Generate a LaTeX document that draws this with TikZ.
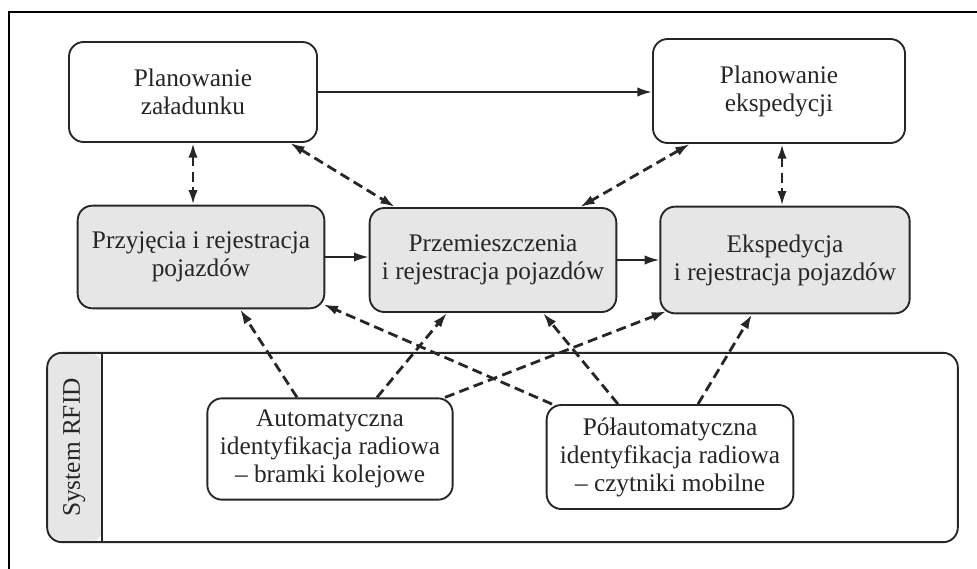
\documentclass[tikz,border=0pt]{standalone}
\usepackage{fontspec}
\setmainfont{Liberation Serif}
\usetikzlibrary{arrows.meta,calc}
\definecolor{boxgrey}{HTML}{E6E6E6}
\definecolor{ink}{HTML}{262626}
\begin{document}
\begin{tikzpicture}[x=0.75pt,y=-0.75pt,
  every node/.style={font=\fontsize{19}{21}\selectfont, text=ink},
  box/.style={draw=ink, line width=1.4pt, rounded corners=11pt, align=center, inner sep=0pt},
  plain/.style={box, fill=white},
  shaded/.style={box, fill=boxgrey},
  flow/.style={line width=1.6pt, draw=ink, -{Latex[length=11pt,width=7pt]}},
  link/.style={line width=2.1pt, draw=ink, dash pattern=on 7.5pt off 4pt, -{Latex[length=11pt,width=7pt]}},
  both/.style={link, {Latex[length=11pt,width=7pt]}-{Latex[length=11pt,width=7pt]}},
]
\useasboundingbox (0,0) rectangle (977,568);

% page frame (runs off the right and bottom edges)
\draw[line width=2.2pt, black] (990,12) -- (9,12) -- (9,580);

% planning level
\node[plain, minimum width=186pt, minimum height=75pt] (plz) at (193,92) {Planowanie\\załadunku};
\node[plain, minimum width=189pt, minimum height=78pt] (ple) at (779,91) {Planowanie\\ekspedycji};

% operations level
\node[shaded, minimum width=185pt, minimum height=77pt] (prz) at (201,257) {Przyjęcia i rejestracja\\pojazdów};
\node[shaded, minimum width=185pt, minimum height=78pt] (prm) at (493,260) {Przemieszczenia\\i rejestracja pojazdów};
\node[shaded, minimum width=187pt, minimum height=80pt] (eks) at (785,260) {Ekspedycja\\i rejestracja pojazdów};

% RFID system band with its grey title strip
\node[draw=ink, line width=1.4pt, rounded corners=11pt, fill=white,
      minimum width=683pt, minimum height=142pt,
      path picture={\fill[boxgrey] (path picture bounding box.north west) rectangle ($(path picture bounding box.south west)+(56,0)$);}]
      (rfid) at (502.5,447.5) {};
\draw[draw=ink, line width=1.4pt] ($(rfid.north west)+(56,0)$) -- ($(rfid.south west)+(56,0)$);
\node[rotate=90] (rfidlabel) at ($(rfid.west)+(28,0)$) {System RFID};

\node[plain, minimum width=184pt, minimum height=76pt] (auto) at (330,449) {Automatyczna\\identyfikacja radiowa\\– bramki kolejowe};
\node[plain, minimum width=185pt, minimum height=78pt] (polo) at (670,457) {Półautomatyczna\\identyfikacja radiowa\\– czytniki mobilne};

% solid flows
\draw[flow] (plz.east) -- (plz.east -| ple.west);
\draw[flow] (prz.east) -- (prz.east -| prm.west);
\draw[flow] (prm.east) -- (prm.east -| eks.west);

% planning <-> operations
\coordinate (pleout) at ($(ple.south)+(3,0)$);
\draw[both] (plz.south) -- (plz.south |- prz.north);
\draw[both] ($(plz.south)+(97,0)$) -- ($(prm.north)+(-98,0)$);
\draw[both] ($(ple.south)+(-89,0)$) -- ($(prm.north)+(87,0)$);
\draw[both] (pleout) -- (pleout |- eks.north);

% RFID readers -> operations
\draw[link] ($(auto.north)+(-33,0)$) -- ($(prz.south)+(39,0)$);
\draw[link] ($(auto.north)+(47,0)$) -- ($(prm.south)+(-46,0)$);
\draw[link] ($(auto.north)+(115,0)$) -- ($(eks.south west)+(7,-3)$);
\draw[link] ($(polo.north)+(-118,0)$) -- ($(prz.south east)+(-2,-5)$);
\draw[link] ($(polo.north)+(-52,0)$) -- ($(prm.south)+(50,0)$);
\draw[link] ($(polo.north)+(28,0)$) -- ($(eks.south)+(-33,0)$);
\end{tikzpicture}
\end{document}
